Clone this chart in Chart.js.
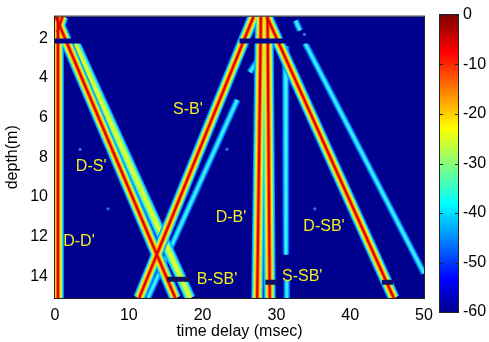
<!DOCTYPE html>
<html>
<head>
<meta charset="utf-8">
<script src="https://cdn.jsdelivr.net/npm/chart.js@4.4.1/dist/chart.umd.min.js"></script>
<style>
  html, body { margin: 0; padding: 0; background: #fff; }
  #wrap { position: relative; width: 489px; height: 342px; }
  #main { position: absolute; left: 0; top: 0; }
  #bar { position: absolute; left: 430px; top: 0; }
</style>
</head>
<body>
<div id="wrap">
  <canvas id="main" width="489" height="342"></canvas>
  <canvas id="bar" width="59" height="342"></canvas>
</div>
<script>
// ticks
const xTicks = [0, 10, 20, 30, 40, 50];
const yTicks = [2, 4, 6, 8, 10, 12, 14];
const cbTicks = [0, -10, -20, -30, -40, -50, -60];

// arrival paths, [time delay (msec), depth (m)] at each end
const pathDD = [[0.4, 0.9], [0.4, 15.1]];
const pathDS = [[0.1, 0.9], [16.3, 15.1]];
const pathSB = [[26.9, 0.9], [11.4, 15.1]];
const pathDB1 = [[27.9, 0.9], [27.4, 15.1]];
const pathDB2 = [[28.8, 0.9], [29.1, 15.1]];
const pathDSB = [[28.7, 0.9], [45.9, 15.1]];
const pathTopLeg = [[0.3, 1.7], [1.0, 0.9]];
const pathDS2 = [[2.7, 2.25], [18.3, 15.1]];
const pathSB2 = [[24.7, 5.1], [12.6, 15.1]];
const pathSB3 = [[27.5, 3.1], [26.4, 3.7]];
const pathV1 = [[31.2, 2.4], [31.3, 12.9]];
const pathV2 = [[31.4, 14.2], [31.4, 15.1]];
const pathDSB2 = [[33.9, 2.25], [50.0, 13.85]];
const pathTopR = [[32.6, 1.1], [33.2, 1.6]];

const strongPaths = [pathDD, pathDS, pathSB, pathDB1, pathDB2, pathDSB, pathTopLeg];
const mediumPaths = [pathDS2];
const weakPaths = [pathSB2, pathSB3, pathV1, pathV2, pathDSB2, pathTopR];

// missing rows and label pointers
const gapRows = [[[0, 2.13], [4, 2.13]], [[25, 2.13], [35, 2.13]]];
const pointers = [[[15.2, 14.15], [18.3, 14.15]], [[28.5, 14.3], [30.2, 14.3]], [[44.3, 14.3], [45.8, 14.3]]];
const dots = [[3.4, 7.6], [23.3, 7.6], [7.2, 10.6], [35.2, 10.6], [33.8, 1.8]];

// labels
const labelText = ["S-B'", "D-S'", "D-D'", "B-SB'", "D-B'", "D-SB'", "S-SB'"];
const labelT = [18.0, 4.9, 3.25, 21.95, 23.85, 36.45, 33.5];
const labelD = [5.6, 8.48, 12.24, 14.15, 11.04, 11.49, 14.0];

const font = { family: 'Liberation Sans, Arial, sans-serif', size: 16 };
const bg = '#00008f';

const strongLayers = [[12, '#0a8cff'], [10, '#1edcf0'], [8, '#a0ff60'], [6, '#ffe000'], [4, '#ff8000'], [2.2, '#e00000']];
const mediumLayers = [[11, '#0a8cff'], [9, '#20e0f0'], [6.5, '#80ff80'], [3.5, '#d8ff30']];
const weakLayers = [[6.5, '#0068ff'], [4, '#10c8ff'], [2, '#40f0f0']];

const toPts = p => p.map(q => ({ x: q[0], y: q[1] }));
const datasets = [];
function addPaths(paths, layers, baseOrder) {
  layers.forEach((l, i) => {
    paths.forEach(p => {
      datasets.push({
        data: toPts(p), showLine: true, pointRadius: 0,
        borderColor: l[1], borderWidth: l[0], borderCapStyle: 'butt',
        order: baseOrder - i, clip: 0
      });
    });
  });
}
addPaths(weakPaths, weakLayers, 300);
addPaths(mediumPaths, mediumLayers, 200);
addPaths(strongPaths, strongLayers, 100);
gapRows.forEach(p => datasets.push({ data: toPts(p), showLine: true, pointRadius: 0, borderColor: bg, borderWidth: 5, order: 5, clip: 0 }));
pointers.forEach(p => datasets.push({ data: toPts(p), showLine: true, pointRadius: 0, borderColor: '#101062', borderWidth: 5, order: 4, clip: 0 }));
datasets.push({ data: toPts(dots), showLine: false, pointRadius: 1.6, pointBackgroundColor: '#2a6cff', pointBorderWidth: 0, order: 3, clip: 0 });

const plotDeco = {
  id: 'plotDeco',
  beforeDatasetsDraw(chart) {
    const { ctx, chartArea: a } = chart;
    ctx.save();
    ctx.fillStyle = bg;
    ctx.fillRect(a.left, a.top, a.right - a.left, a.bottom - a.top);
    ctx.restore();
  },
  afterDatasetsDraw(chart) {
    const { ctx, chartArea: a, scales } = chart;
    ctx.save();
    ctx.fillStyle = '#f2ee1c';
    ctx.font = '16px Liberation Sans, Arial, sans-serif';
    ctx.textAlign = 'center';
    ctx.textBaseline = 'middle';
    labelText.forEach((t, i) => {
      ctx.fillText(t, scales.x.getPixelForValue(labelT[i]), scales.y.getPixelForValue(labelD[i]));
    });
    ctx.strokeStyle = '#222';
    ctx.lineWidth = 1;
    ctx.strokeRect(a.left - 0.5, a.top - 0.5, a.right - a.left + 1, a.bottom - a.top + 1);
    ctx.restore();
  }
};

new Chart(document.getElementById('main').getContext('2d'), {
  type: 'scatter',
  data: { datasets: datasets },
  options: {
    responsive: false,
    animation: false,
    events: [],
    layout: { padding: { left: 0, right: 65, top: 15, bottom: 0 } },
    plugins: { legend: { display: false }, tooltip: { enabled: false } },
    scales: {
      x: {
        type: 'linear', min: 0, max: 50,
        afterBuildTicks: s => { s.ticks = xTicks.map(v => ({ value: v })); },
        afterFit: s => { s.height = 44; },
        grid: { display: false, drawTicks: false },
        border: { display: false },
        ticks: { padding: 8, color: '#000', font: font, maxRotation: 0 },
        title: { display: true, text: 'time delay (msec)', color: '#000', font: font, padding: 1 }
      },
      y: {
        type: 'linear', min: 0.9, max: 15.1, reverse: true,
        afterBuildTicks: s => { s.ticks = yTicks.map(v => ({ value: v })); },
        afterFit: s => { s.width = 55; },
        grid: { display: false, drawTicks: false },
        border: { display: false },
        ticks: { padding: 7, color: '#000', font: font },
        title: { display: true, text: 'depth(m)', color: '#000', font: font, padding: 3 }
      }
    }
  },
  plugins: [plotDeco]
});

// colorbar
const barDeco = {
  id: 'barDeco',
  afterDatasetsDraw(chart) {
    const { ctx, chartArea: a, scales } = chart;
    ctx.save();
    ctx.strokeStyle = '#222';
    ctx.lineWidth = 1;
    ctx.strokeRect(a.left - 0.5, a.top - 0.5, a.right - a.left + 1, a.bottom - a.top + 1);
    cbTicks.forEach(v => {
      const y = Math.round(scales.y.getPixelForValue(v)) + 0.5;
      ctx.beginPath();
      ctx.moveTo(a.left, y); ctx.lineTo(a.left + 3, y);
      ctx.moveTo(a.right - 3, y); ctx.lineTo(a.right, y);
      ctx.stroke();
    });
    ctx.restore();
  }
};

new Chart(document.getElementById('bar').getContext('2d'), {
  type: 'bar',
  data: {
    labels: ['dB'],
    datasets: [{
      data: [[-60, 0]],
      barPercentage: 1, categoryPercentage: 1, borderWidth: 0,
      backgroundColor: c => {
        const a = c.chart.chartArea;
        if (!a) return bg;
        const g = c.chart.ctx.createLinearGradient(0, a.bottom, 0, a.top);
        g.addColorStop(0, '#00008f');
        g.addColorStop(0.111, '#0000ff');
        g.addColorStop(0.365, '#00ffff');
        g.addColorStop(0.619, '#ffff00');
        g.addColorStop(0.873, '#ff0000');
        g.addColorStop(1, '#800000');
        return g;
      }
    }]
  },
  options: {
    responsive: false,
    animation: false,
    events: [],
    layout: { padding: { left: 10, right: 0, top: 15, bottom: 30 } },
    plugins: { legend: { display: false }, tooltip: { enabled: false } },
    scales: {
      x: { display: false },
      y: {
        position: 'right', min: -60, max: 0,
        afterBuildTicks: s => { s.ticks = cbTicks.map(v => ({ value: v })); },
        afterFit: s => { s.width = 31; },
        grid: { display: false, drawTicks: false },
        border: { display: false },
        ticks: { padding: 5, color: '#000', font: font }
      }
    }
  },
  plugins: [barDeco]
});
</script>
</body>
</html>
